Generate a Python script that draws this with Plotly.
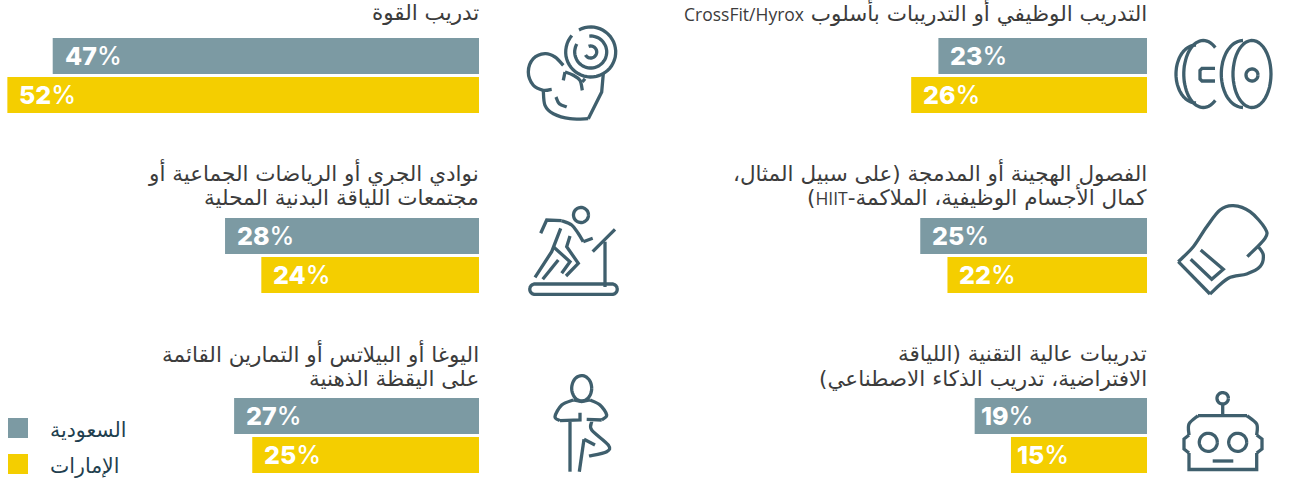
import numpy as np
import plotly.graph_objects as go

W, H = 1290, 485

# values, top row to bottom row
rows = ["row1", "row2", "row3"]
left_saudi = [47, 28, 27]
left_uae = [52, 24, 25]
right_saudi = [23, 25, 19]
right_uae = [26, 22, 15]

left_titles = [
    ["تدريب القوة"],
    ["نوادي الجري أو الرياضات الجماعية أو", "مجتمعات اللياقة البدنية المحلية"],
    ["اليوغا أو البيلاتس أو التمارين القائمة", "على اليقظة الذهنية"],
]
right_titles = [
    ["التدريب الوظيفي أو التدريبات بأسلوب CrossFit/Hyrox"],
    ["الفصول الهجينة أو المدمجة (على سبيل المثال،", "كمال الأجسام الوظيفية، الملاكمة-HIIT)"],
    ["تدريبات عالية التقنية (اللياقة", "الافتراضية، تدريب الذكاء الاصطناعي)"],
]
legend_names = ["السعودية", "الإمارات"]

SAUDI = "#7c9aa3"
UAE = "#f4ce00"
ICON = "#3f5f6d"
TEXT = "#3c3c3c"
LEGEND_TEXT = "#1f3f4f"
AR_FONT = "DejaVu Sans"
NUM_FONT = "Inter"
LATIN_SPAN = '<span style="font-family:Open Sans;font-size:17.5px">%s</span>'

PX_PER_PCT = 9.07
LEFT_EDGE, RIGHT_EDGE = 479, 1147
TITLE_LINE_Y = [[12], [172, 197], [353, 378]]
ICON_W = 3.3


def rtl(s):
    # force right-to-left base direction and keep latin words in a slimmer face
    for word in ["CrossFit/Hyrox", "HIIT"]:
        s = s.replace(word, LATIN_SPAN % word)
    return "\u202b" + s


fig = go.Figure()

for vals, color, ax in [
    (left_saudi, SAUDI, "x"),
    (left_uae, UAE, "x"),
    (right_saudi, SAUDI, "x2"),
    (right_uae, UAE, "x2"),
]:
    fig.add_trace(go.Bar(y=rows, x=vals, orientation="h", marker=dict(color=color, line=dict(width=0)),
                         xaxis=ax, yaxis="y", showlegend=False, hoverinfo="skip"))

annotations = []

# percentage labels, anchored on the end of each bar
for vals, ax, offset in [
    (left_saudi, "x", -19.5), (left_uae, "x", 19.5),
    (right_saudi, "x2", -19.5), (right_uae, "x2", 19.5),
]:
    for i, v in enumerate(vals):
        annotations.append(dict(
            x=v, y=rows[i], xref=ax, yref="y", xanchor="left", yanchor="middle",
            xshift=4 if v < 20 else 10, yshift=-offset, showarrow=False,
            text='<span style="font-weight:800">%d</span>%%' % v,
            font=dict(family=NUM_FONT, size=25, color="white", weight=500),
        ))

# titles sit above each bar pair, right aligned, one annotation per line
for titles, edge in [(left_titles, LEFT_EDGE), (right_titles, RIGHT_EDGE)]:
    for lines, ys in zip(titles, TITLE_LINE_Y):
        for line, y in zip(lines, ys):
            annotations.append(dict(
                x=edge, y=y, xref="x3", yref="y3", xanchor="right", yanchor="middle",
                xshift=2, showarrow=False, text=rtl(line),
                font=dict(family=AR_FONT, size=21.5, color=TEXT),
            ))

# legend
shapes = []
for i, (name, color) in enumerate(zip(legend_names, [SAUDI, UAE])):
    y0 = 418 + 36 * i
    shapes.append(dict(type="rect", xref="x3", yref="y3", x0=8, x1=28, y0=y0, y1=y0 + 20,
                       fillcolor=color, line=dict(width=0)))
    annotations.append(dict(x=48, y=y0 + 12, xref="x3", yref="y3", xanchor="left", yanchor="middle",
                            showarrow=False, text=rtl(name),
                            font=dict(family=AR_FONT, size=20.5, color=LEGEND_TEXT)))


def stroke(path):
    shapes.append(dict(type="path", path=path, xref="x3", yref="y3",
                       line=dict(color=ICON, width=ICON_W), fillcolor="rgba(0,0,0,0)"))


def poly(pts):
    stroke("M " + " L ".join("%.1f,%.1f" % p for p in pts))


def smooth(pts):
    # catmull-rom through the given points
    p = [pts[0]] + list(pts) + [pts[-1]]
    d = "M %.1f,%.1f" % pts[0]
    for i in range(1, len(p) - 2):
        c1 = (p[i][0] + (p[i + 1][0] - p[i - 1][0]) / 6, p[i][1] + (p[i + 1][1] - p[i - 1][1]) / 6)
        c2 = (p[i + 1][0] - (p[i + 2][0] - p[i][0]) / 6, p[i + 1][1] - (p[i + 2][1] - p[i][1]) / 6)
        d += " C %.1f,%.1f %.1f,%.1f %.1f,%.1f" % (c1 + c2 + p[i + 1])
    stroke(d)


def arc(cx, cy, rx, ry, a0, a1):
    t = np.radians(np.linspace(a0, a1, 48))
    poly(list(zip(cx + rx * np.cos(t), cy + ry * np.sin(t))))


# dumbbell
arc(1252, 74, 19, 33.5, 0, 360)
arc(1243, 74, 21.7, 33.5, 90, 270)
arc(1252, 75, 6, 6, 0, 360)
arc(1203.3, 74, 19.5, 33.5, 52, 308)
arc(1196, 74, 20, 29, 90, 270)
poly([(1215, 68.3), (1202, 68.3), (1200, 70.5), (1200, 79), (1202, 81), (1215, 81)])

# flexed arm with a weight plate
arc(590.7, 52, 25, 25, -118, 221)
arc(590.7, 52, 16, 16, -95, 210)
arc(590.7, 52, 6, 6, -110, 150)
smooth([(563.3, 65.3), (555, 57), (545, 53.7), (533.3, 58.7), (528.3, 72), (533.3, 85.3), (543.3, 90.3), (551.7, 89.3)])
poly([(563.3, 80.3), (565, 72)])
smooth([(565, 72), (573.3, 75.3), (580, 80.3), (582.3, 90.3)])
poly([(582.3, 82), (585, 78.7)])
smooth([(543.3, 90.3), (545, 105.3), (553.3, 113.7), (570, 118.7), (588.3, 118.7)])
poly([(588.3, 118.7), (591.7, 112), (601.7, 92), (603.3, 73.7)])
smooth([(556, 97), (559.3, 103.7), (566.7, 107)])

# treadmill runner
arc(581, 215, 7.5, 7.5, 0, 360)
poly([(535, 284), (612, 284)])
arc(612, 289.2, 5.2, 5.2, -90, 90)
poly([(612, 294.4), (535, 294.4)])
arc(535, 289.2, 5.2, 5.2, 90, 270)
poly([(605, 287), (605, 241.7)])
poly([(615, 229.3), (592.7, 251.7)])
poly([(540.7, 233.3), (546.7, 220), (561.7, 220.7)])
smooth([(561.7, 220.7), (571.7, 225), (578, 233), (583.3, 241.7)])
poly([(583.3, 241.7), (592.7, 238.3)])
poly([(560.7, 228.3), (551.7, 251.7), (535, 277.3)])
poly([(570, 236), (566.7, 246.7), (578.3, 263.3), (566, 276)])
poly([(553.3, 246.7), (570, 261.7), (561.7, 273.3)])
poly([(558.3, 260), (542.7, 279.3)])

# boxing glove
smooth([(1178.3, 261.7), (1193.3, 246.7), (1206.7, 226.7), (1220, 210), (1233.3, 205.7), (1250, 211.7), (1265, 228.3), (1265, 238.3), (1247.3, 256.7)])
smooth([(1258.3, 246.7), (1263.3, 255), (1260, 266.7), (1246.7, 274), (1228.3, 278.3), (1210, 294)])
poly([(1178.3, 261.7), (1210, 294)])
poly([(1200.7, 250), (1223.3, 269.3), (1211.7, 279.3), (1190.7, 259.3)])

# yoga figure
arc(581.7, 388.3, 10, 12.7, 0, 360)
smooth([(573.3, 400), (561.7, 405), (555, 416.7), (560, 420.7)])
poly([(560, 420.7), (580, 420), (580, 412.7)])
poly([(573.3, 400), (581.7, 401.5), (590, 400)])
smooth([(590, 400), (600, 405), (606.7, 415), (601.7, 420)])
poly([(601.7, 420), (586.7, 419.3)])
poly([(570, 421.7), (570, 471.7)])
poly([(584, 439.3), (579.3, 471.7)])
poly([(584, 439.3), (595, 445)])
smooth([(591.7, 421.7), (591.7, 430), (608.3, 445), (606.7, 451.7), (589, 456)])

# robot
arc(1222.7, 398.3, 5.7, 5.7, 0, 360)
poly([(1222.7, 404), (1222.7, 415.7)])
smooth([(1189, 435), (1189, 424), (1198, 415.7)])
poly([(1198, 415.7), (1247, 415.7)])
smooth([(1247, 415.7), (1256.7, 424), (1256.7, 435)])
poly([(1189, 453), (1189, 469.5), (1256.7, 469.5), (1256.7, 453)])
poly([(1189, 435), (1184, 439), (1184, 449), (1189, 453)])
poly([(1256.7, 435), (1262, 439), (1262, 449), (1256.7, 453)])
arc(1208.3, 442.3, 9, 9, 0, 360)
arc(1237.7, 442.3, 9, 9, 0, 360)
poly([(1212.7, 461), (1233.3, 461)])

fig.update_layout(
    width=W,
    height=H,
    autosize=False,
    margin=dict(l=0, r=0, t=0, b=0),
    paper_bgcolor="white",
    plot_bgcolor="rgba(0,0,0,0)",
    barmode="group",
    bargap=0.5667,
    bargroupgap=0.077,
    xaxis=dict(domain=[0, LEFT_EDGE / W], range=[LEFT_EDGE / PX_PER_PCT, 0], visible=False),
    xaxis2=dict(domain=[0, RIGHT_EDGE / W], range=[RIGHT_EDGE / PX_PER_PCT, 0], visible=False, anchor="y"),
    yaxis=dict(range=[(H - 75.5) / 180, -75.5 / 180], visible=False, type="category",
               categoryorder="array", categoryarray=rows),
    # pixel overlay for titles, legend and icons
    xaxis3=dict(domain=[0, 1], range=[0, W], visible=False, anchor="y3"),
    yaxis3=dict(domain=[0, 1], range=[H, 0], visible=False, anchor="x3"),
    annotations=annotations,
    shapes=shapes,
)
fig.add_trace(go.Scatter(x=[None], y=[None], xaxis="x3", yaxis="y3", showlegend=False, hoverinfo="skip"))

# plotly's page keeps the default body margin, which would push everything 8px in
fig.write_html("out.html", config=dict(displayModeBar=False),
               post_script="document.body.style.margin='0';")
